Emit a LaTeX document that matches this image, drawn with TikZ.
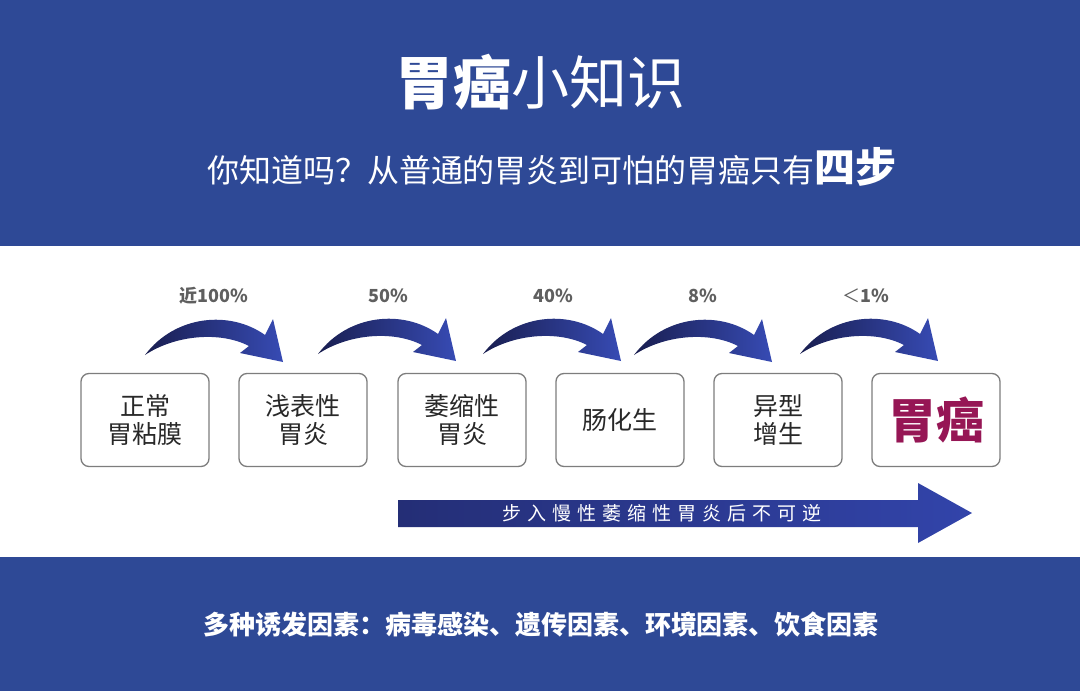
\documentclass[tikz,border=0pt]{standalone}
\usepackage{fontspec}
\setmainfont{Noto Sans CJK SC}
\definecolor{band}{RGB}{46,73,150}
\definecolor{arrowdark}{RGB}{25,30,80}
\definecolor{arrowlight}{RGB}{55,75,180}
\definecolor{bigleft}{RGB}{36,46,118}
\definecolor{bigright}{RGB}{50,68,170}
\definecolor{boxline}{RGB}{125,125,125}
\definecolor{lbl}{RGB}{95,95,95}
\definecolor{stagetext}{RGB}{40,40,40}
\definecolor{cancer}{RGB}{150,22,85}
\newcommand{\fs}[1]{\fontsize{#1}{#1}\selectfont}
\newcommand{\curvedarrow}[1]{%
  \path[shading=axis,left color=arrowdark,right color=arrowlight,shift={#1}]
    (0,0) .. controls (30,-40) and (85,-45) .. (120,-20)
    -- (128,-36) -- (138,7) -- (95,-2) -- (104,-9)
    .. controls (75,-24) and (30,-20) .. (0,0) -- cycle;}
\tikzset{
  stagebox/.style={draw=boxline,line width=1.3pt,rounded corners=8pt,fill=white,
    minimum width=128pt,minimum height=93pt,align=center,text=stagetext,
    font=\fs{25}\linespread{1.12}\selectfont,inner sep=0pt},
  pct/.style={anchor=base,text=lbl,font=\bfseries\fs{18}},
}
\begin{document}
\begin{tikzpicture}[x=1pt,y=-1pt]
\useasboundingbox (0,0) rectangle (1080,691);
% bands
\fill[band] (0,0) rectangle (1080,246);
\fill[white] (0,246) rectangle (1080,557);
\fill[band] (0,557) rectangle (1080,691);
% titles
\node[anchor=base,text=white,inner sep=0pt] (title) at (540,104)
  {\fs{58}{\bfseries 胃癌}小知识};
\node[anchor=base,text=white,inner sep=0pt] (sub) at (552,182)
  {\fs{32}你知道吗？从普通的胃炎到可怕的胃癌只有{\bfseries\fs{41}四步}};
% stages
\node[stagebox] (b1) at (145,420) {正常\\胃粘膜};
\node[stagebox] (b2) at (303,420) {浅表性\\胃炎};
\node[stagebox] (b3) at (462,420) {萎缩性\\胃炎};
\node[stagebox] (b4) at (620,420) {肠化生};
\node[stagebox] (b5) at (778,420) {异型\\增生};
\node[stagebox,font=\bfseries\fs{48},text=cancer] (b6) at (936,420) {胃癌};
% curved arrows
\curvedarrow{(145,355)}
\curvedarrow{(318,354)}
\curvedarrow{(483,354)}
\curvedarrow{(634,355)}
\curvedarrow{(800,354)}
% percentages
\node[pct] (p1) at (214,302) {近100\%};
\node[pct] (p2) at (388,302) {50\%};
\node[pct] (p3) at (553,302) {40\%};
\node[pct] (p4) at (703,302) {8\%};
\node[pct] (p5) at (866,302) {{\mdseries ＜}1\%};
% big arrow
\path[shading=axis,left color=bigleft,right color=bigright]
  (398,500) -- (918,500) -- (918,483) -- (972,513) -- (918,543) -- (918,527) -- (398,527) -- cycle;
\node[anchor=base,text=white,inner sep=0pt] (irr) at (662,520)
  {\fs{19}步\hspace{6pt}入\hspace{6pt}慢\hspace{6pt}性\hspace{6pt}萎\hspace{6pt}缩\hspace{6pt}性\hspace{6pt}胃\hspace{6pt}炎\hspace{6pt}后\hspace{6pt}不\hspace{6pt}可\hspace{6pt}逆};
% bottom
\node[anchor=base,text=white,inner sep=0pt] (factors) at (541,634)
  {\bfseries\fs{26}多种诱发因素：病毒感染、遗传因素、环境因素、饮食因素};
\end{tikzpicture}
\end{document}
